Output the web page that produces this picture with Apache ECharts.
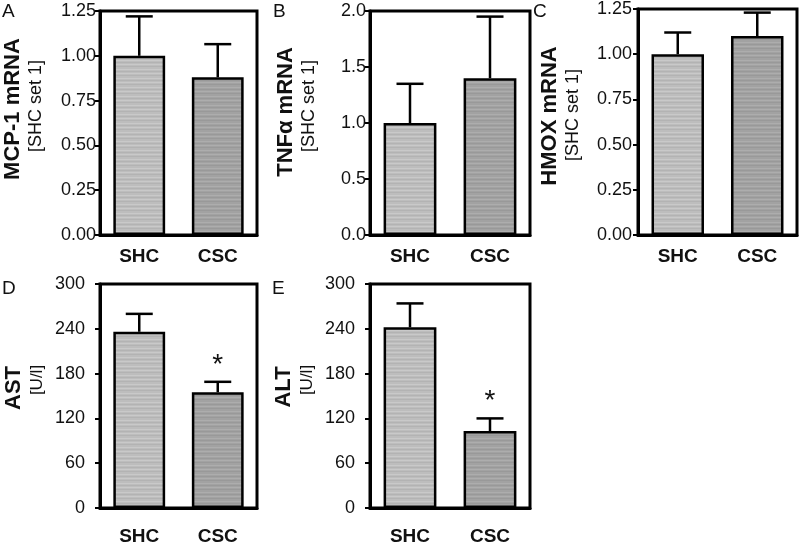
<!DOCTYPE html>
<html>
<head>
<meta charset="utf-8">
<script src="https://cdn.jsdelivr.net/npm/echarts@6/dist/echarts.min.js"></script>
<style>
html,body{margin:0;padding:0;background:#fff;}
#main{width:800px;height:547px;}
</style>
</head>
<body>
<div id="main"></div>
<script>
var categories = ['SHC', 'CSC'];

// mean and SEM (upper bar only)
var mcpMean = [1.00, 0.88];
var mcpErr = [0.22, 0.185];
var tnfMean = [1.00, 1.40];
var tnfErr = [0.35, 0.55];
var hmoxMean = [1.00, 1.10];
var hmoxErr = [0.12, 0.13];
var astMean = [236, 155];
var astErr = [24, 14];
var altMean = [242, 103];
var altErr = [32, 17];
var astSig = ['', '*'];
var altSig = ['', '*'];

var panels = [
	{ letter: 'A', title: 'MCP-1 mRNA', unit: '[SHC set 1]', mean: mcpMean, err: mcpErr, sig: ['', ''],
	  max: 1.25, interval: 0.25, dec: 2, grid: [100, 11, 157, 224], lblMargin: 4, xMargin: 12,
	  letterPos: [2, 2], titleX: 13, unitX: 36, titleY: 109, unitY: 106 },
	{ letter: 'B', title: 'TNFα mRNA', unit: '[SHC set 1]', mean: tnfMean, err: tnfErr, sig: ['', ''],
	  max: 2.0, interval: 0.5, dec: 1, grid: [370, 11, 160, 224], lblMargin: 4, xMargin: 12,
	  letterPos: [273, 2], titleX: 286, unitX: 309, titleY: 112, unitY: 106 },
	{ letter: 'C', title: 'HMOX mRNA', unit: '[SHC set 1]', mean: hmoxMean, err: hmoxErr, sig: ['', ''],
	  max: 1.25, interval: 0.25, dec: 2, grid: [638, 8, 159, 227], lblMargin: 6, xMargin: 12,
	  letterPos: [533, 2], titleX: 550, unitX: 573, titleY: 116, unitY: 115 },
	{ letter: 'D', title: 'AST', unit: '[U/l]', mean: astMean, err: astErr, sig: astSig,
	  max: 300, interval: 60, dec: 0, grid: [100, 284, 157, 224], lblMargin: 15, xMargin: 19,
	  letterPos: [2, 279], titleX: 14, unitX: 37, titleY: 388, unitY: 380 },
	{ letter: 'E', title: 'ALT', unit: '[U/l]', mean: altMean, err: altErr, sig: altSig,
	  max: 300, interval: 60, dec: 0, grid: [370, 284, 160, 224], lblMargin: 15, xMargin: 19,
	  letterPos: [272, 279], titleX: 284, unitX: 307, titleY: 387, unitY: 380 }
];

// horizontal stripe texture like the scanned bars
function stripes(base, light, dark) {
	var c = document.createElement('canvas');
	c.width = 4; c.height = 9;
	var ctx = c.getContext('2d');
	var rows = [base, light, base, dark, base, base, light, base, dark];
	for (var i = 0; i < rows.length; i++) {
		ctx.fillStyle = rows[i];
		ctx.fillRect(0, i, 4, 1);
	}
	return { image: c, repeat: 'repeat' };
}
var fills = [stripes('#bdbdbd', '#c9c9c9', '#b3b3b3'), stripes('#a2a2a2', '#adadad', '#999999')];

var FONT = 'Liberation Sans, Arial, sans-serif';
var grids = [], xAxes = [], yAxes = [], series = [], graphics = [];

panels.forEach(function(p, k) {
	grids.push({
		left: p.grid[0], top: p.grid[1], width: p.grid[2], height: p.grid[3],
		show: true, borderColor: '#000', borderWidth: 3, backgroundColor: 'transparent'
	});
	xAxes.push({
		type: 'category', gridIndex: k, data: categories,
		axisLine: { lineStyle: { color: '#000', width: 3 } },
		axisTick: { alignWithLabel: true, length: 6, lineStyle: { color: '#000', width: 2 } },
		axisLabel: { color: '#111', fontSize: 19, fontWeight: 'bold', fontFamily: FONT, margin: p.xMargin }
	});
	yAxes.push({
		type: 'value', gridIndex: k, min: 0, max: p.max, interval: p.interval,
		axisLine: { show: true, lineStyle: { color: '#000', width: 3 } },
		axisTick: { show: true, length: 5, lineStyle: { color: '#000', width: 2 } },
		splitLine: { show: false },
		axisLabel: {
			color: '#111', fontSize: 18, fontFamily: FONT, margin: p.lblMargin,
			formatter: function(v) { return v.toFixed(p.dec); }
		}
	});
	series.push({
		type: 'bar', xAxisIndex: k, yAxisIndex: k, barWidth: '66%',
		data: p.mean.map(function(v, i) {
			return { value: v, itemStyle: { color: fills[i] } };
		}),
		itemStyle: { borderColor: '#000', borderWidth: 2.5 },
		animation: false
	});
	series.push({
		type: 'custom', xAxisIndex: k, yAxisIndex: k, z: 5,
		data: p.mean.map(function(v, i) { return [i, v, v + p.err[i], p.sig[i]]; }),
		renderItem: function(params, api) {
			var i = api.value(0);
			var lo = api.coord([i, api.value(1)]);
			var hi = api.coord([i, api.value(2)]);
			var half = 13.5;
			var st = { stroke: '#000', lineWidth: 2.5 };
			var kids = [
				{ type: 'line', shape: { x1: lo[0], y1: lo[1], x2: hi[0], y2: hi[1] }, style: st },
				{ type: 'line', shape: { x1: hi[0] - half, y1: hi[1], x2: hi[0] + half, y2: hi[1] }, style: st }
			];
			var s = p.sig[i];
			if (s) {
				kids.push({
					type: 'text', x: hi[0], y: hi[1] - 17,
					style: { text: s, fill: '#111', fontSize: 28, fontFamily: FONT, align: 'center', verticalAlign: 'middle' }
				});
			}
			return { type: 'group', children: kids };
		},
		animation: false
	});

	graphics.push({
		type: 'text', left: p.letterPos[0], top: p.letterPos[1],
		style: { text: p.letter, fontSize: 19, fontFamily: FONT, fill: '#111' }
	});
	graphics.push({
		type: 'text', x: p.titleX, y: p.titleY, rotation: Math.PI / 2,
		style: { text: p.title, fontSize: 22, fontWeight: 'bold', fontFamily: FONT, fill: '#111', align: 'center', verticalAlign: 'middle' }
	});
	graphics.push({
		type: 'text', x: p.unitX, y: p.unitY, rotation: Math.PI / 2,
		style: { text: p.unit, fontSize: p.unit.length > 6 ? 18 : 17, fontFamily: FONT, fill: '#111', align: 'center', verticalAlign: 'middle' }
	});
});

var myChart = echarts.init(document.getElementById('main'));
var option = {
	backgroundColor: '#fff',
	animation: false,
	grid: grids,
	xAxis: xAxes,
	yAxis: yAxes,
	series: series,
	graphic: graphics
};
myChart.setOption(option, true);
</script>
</body>
</html>
